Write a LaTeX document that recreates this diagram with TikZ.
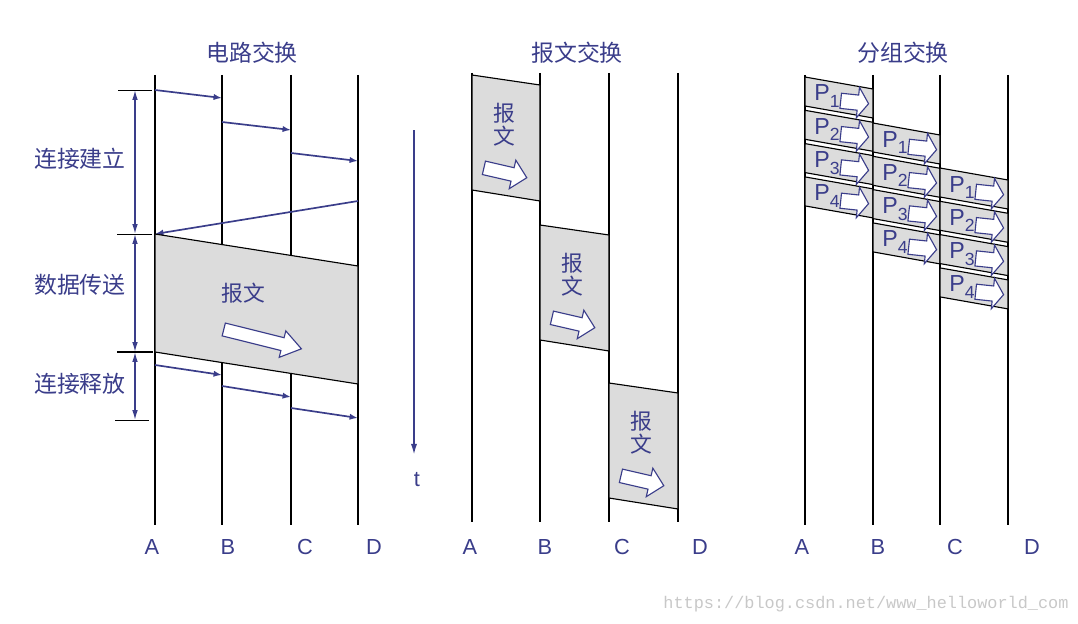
\documentclass[tikz,border=0pt]{standalone}
\usepackage{fontspec}
\setmainfont{Liberation Sans}
\newfontfamily\cjk{Noto Sans CJK SC}
\newfontfamily\wmfont{Liberation Mono}
\usepackage{xcolor}
\usetikzlibrary{arrows.meta,shapes.arrows}
\definecolor{navy}{HTML}{3A3D8A}
\definecolor{boxgray}{HTML}{DCDCDC}
\definecolor{wmgray}{HTML}{C8C8C8}
\tikzset{
	station/.style={line width=0.9pt},%
	stationlabel/.style={navy,font=\fontsize{15.5}{18}\selectfont},%
	title/.style={navy,font=\cjk\fontsize{16.3}{18}\selectfont},%
	phase/.style={navy,font=\cjk\fontsize{16.3}{18}\selectfont},%
	signal/.style={navy,line width=1.2pt,-{Latex[length=6pt,width=4.5pt]}},%
	dimension/.style={navy,line width=1pt,{Latex[length=7pt,width=4pt]}-{Latex[length=7pt,width=4pt]}},%
	timeaxis/.style={navy,line width=1.3pt,-{Latex[length=8pt,width=4.5pt]}},%
	tick/.style={line width=0.6pt},%
	message/.style={fill=boxgray,draw=black,line width=0.8pt},%
	msgtext/.style={navy,font=\cjk\fontsize{15.5}{16.5}\selectfont,align=center},%
	plabel/.style={navy,anchor=base west,inner sep=0pt,font=\fontsize{16.5}{18}\selectfont},%
	blockarrow/.style={single arrow,draw=navy,fill=white,line width=0.8pt,inner xsep=0pt,minimum width=0pt},%
	bigarrow/.style={blockarrow,inner ysep=4.3pt,single arrow head extend=5pt,single arrow tip angle=70,minimum height=2cm,rotate=-14},%
	midarrow/.style={blockarrow,inner ysep=4.5pt,single arrow head extend=5.5pt,minimum height=1.1cm,rotate=-13},%
	smallarrow/.style={blockarrow,line width=0.8pt,inner ysep=5pt,single arrow head extend=5.5pt,single arrow tip angle=110,minimum height=0.7cm,rotate=-6},%
	watermark/.style={wmgray,font=\wmfont\fontsize{12}{14}\selectfont},%
}
\newcommand{\pk}[1]{P\raisebox{-4.6pt}{\fontsize{12.5}{12.5}\selectfont #1}}

\begin{document}
\begin{tikzpicture}[x=0.025cm,y=-0.025cm]
	\useasboundingbox (0,0) rectangle (1078,624);
	% Circuit switching {{{
	\node[title] (ctitle) at (252,53) {电路交换};
	\foreach \x/\lx/\n in {155/152/A,222/228/B,291/305/C,358/374/D} {
		\draw[station] (\x,75) -- (\x,525);
		\node[stationlabel] (c\n) at (\lx,547) {\n};
	}
	\foreach \xa/\xb/\ya/\yb in {155/222/90/98,222/291/122/130,291/358/153/161} {
		\draw[signal] (\xa,\ya) -- (\xb,\yb);
	}
	\draw[signal] (358,201) -- (155,234);
	\filldraw[message] (155,234) -- (358,266) -- (358,384) -- (155,352) -- cycle;
	\node[msgtext] (cmsg) at (243,293) {报文};
	\node[bigarrow] (carrow) at (258,338) {};
	\foreach \xa/\xb/\ya/\yb in {155/222/365/375,222/291/386/397,291/358/408/418} {
		\draw[signal] (\xa,\ya) -- (\xb,\yb);
	}
	% }}}
	% Phases {{{
	\foreach \y/\xa/\xb in {90/118/152,234/117/152,420/115/149} {
		\draw[tick] (\xa,\y) -- (\xb,\y);
	}
	\draw[tick,line width=1pt] (117,352) -- (153,352);
	\draw[dimension] (135,90) -- (135,234);
	\draw[dimension] (135,234) -- (135,352);
	\draw[dimension] (135,352) -- (135,420);
	\node[phase] (setup) at (80,159) {连接建立};
	\node[phase] (transfer) at (80,285) {数据传送};
	\node[phase] (release) at (80,384) {连接释放};
	% }}}
	% Time {{{
	\draw[timeaxis] (414,130) -- (414,455);
	\node[stationlabel] (t) at (417,480) {t};
	% }}}
	% Message switching {{{
	\node[title] (mtitle) at (577,53) {报文交换};
	\foreach \x/\lx/\n in {472/470/A,540/545/B,609/622/C,678/700/D} {
		\draw[station] (\x,73) -- (\x,522);
		\node[stationlabel] (m\n) at (\lx,547) {\n};
	}
	\foreach \xa/\xb/\y [count=\i] in {472/540/75,540/609/225,609/678/383} {
		\filldraw[message] (\xa,\y) -- (\xb,\y+10) -- (\xb,\y+126) -- (\xa,\y+115) -- cycle;
		\node[msgtext] (mmsg\i) at (\xa+32,\y+50) {报\\文};
		\node[midarrow] (marrow\i) at (\xa+30,\y+97) {};
	}
	% }}}
	% Packet switching {{{
	\node[title] (ptitle) at (903,53) {分组交换};
	\foreach \x/\lx/\n in {805/802/A,873/878/B,940/955/C,1008/1032/D} {
		\draw[station] (\x,75) -- (\x,525);
		\node[stationlabel] (p\n) at (\lx,547) {\n};
	}
	\foreach \xa/\xb/\ys [count=\c] in {805/873/77,873/940/123,940/1008/168} {
		\foreach \k in {1,...,4} {
			\pgfmathsetmacro\yt{\ys+33.3*(\k-1)}
			\filldraw[message] (\xa,\yt) -- (\xb,\yt+12) -- (\xb,\yt+41) -- (\xa,\yt+29) -- cycle;
			\node[smallarrow] (pa\c\k) at (\xa+47,\yt+25) {};
			\node[plabel] (pk\c\k) at (\xa+9,\yt+24) {\pk{\k}};
		}
	}
	% }}}
	\node[watermark] (wm) at (866,604) {https://blog.csdn.net/www\_helloworld\_com};
\end{tikzpicture}
\end{document}
